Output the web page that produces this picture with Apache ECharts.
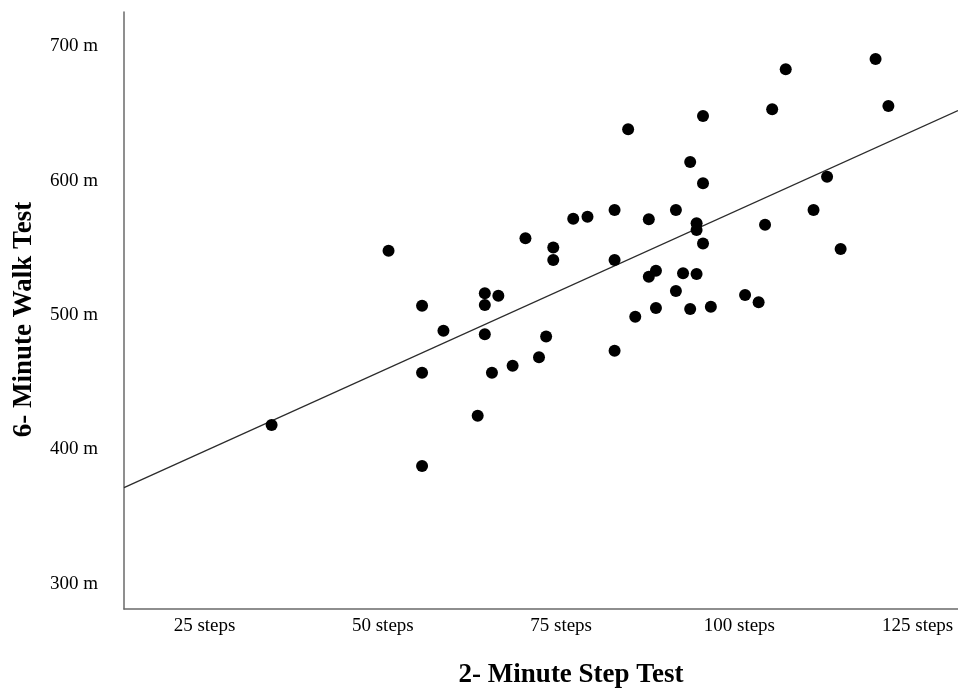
<!DOCTYPE html>
<html>
<head>
    <meta charset="UTF-8">
    <title>2-Minute Step Test vs 6-Minute Walk Test</title>
    <script src="https://cdn.jsdelivr.net/npm/echarts@6.0.0/dist/echarts.min.js"></script>
    <style type="text/css">
        *{padding:0;margin:0}
        body{background:#fff;}
        #chart{width:958px;height:688px;}
    </style>
</head>
<body>
<div id="chart"></div>
<script type="text/javascript">
    // tick labels
    var stepTicks = [25, 50, 75, 100, 125];
    var meterTicks = [300, 400, 500, 600, 700];

    // one entry per participant
    var steps = [34.4, 50.8, 55.5, 55.5, 55.5, 58.5, 63.3, 64.3, 64.3, 64.3,
        65.3, 66.2, 68.2, 70.0, 71.9, 72.9, 73.9, 73.9, 76.7, 78.7,
        82.5, 82.5, 82.5, 84.4, 85.4, 87.3, 87.3, 88.3, 88.3, 91.1,
        91.1, 92.1, 93.1, 93.1, 94.0, 94.0, 94.0, 94.9, 94.9, 94.9,
        96.0, 100.8, 102.7, 103.6, 104.6, 106.5, 110.4, 112.3, 114.2, 119.1,
        120.9];
    var walk = [418.1, 547.9, 506.9, 457.1, 387.6, 488.3, 425.1, 516.2, 507.4, 485.6,
        457.1, 514.4, 462.3, 557.1, 468.5, 484.0, 550.2, 540.9, 571.7, 573.2,
        578.1, 540.9, 473.4, 638.2, 498.7, 571.2, 528.5, 533.0, 505.2, 578.1,
        517.9, 531.0, 613.9, 504.5, 568.2, 563.3, 530.5, 648.1, 598.0, 553.2,
        506.2, 514.9, 509.5, 567.2, 653.1, 682.9, 578.1, 602.9, 549.1, 690.5,
        655.6];

    // fit line, ends at the plot edges
    var fitSteps = [13.7, 130.66];
    var fitWalk = [371.5, 652.1];

    var points = steps.map(function (s, i) { return [s, walk[i]]; });
    var fitLine = fitSteps.map(function (s, i) { return [s, fitWalk[i]]; });

    var serif = 'Liberation Serif';

    var option = {
        animation: false,
        backgroundColor: '#fff',
        grid: {
            left: 124,
            right: 0,
            top: 12,
            bottom: 79,
            containLabel: false,
            outerBoundsMode: 'none'
        },
        xAxis: {
            type: 'value',
            min: 13.7,
            max: 130.66,
            name: '2- Minute Step Test',
            nameLocation: 'middle',
            nameGap: 53,
            nameTextStyle: {
                fontFamily: serif,
                fontWeight: 'bold',
                fontSize: 27,
                color: '#000',
                padding: [0, 0, 0, 60]
            },
            axisLine: {show: true, onZero: false, lineStyle: {color: '#6a6a6a', width: 1.5}},
            axisTick: {show: false},
            splitLine: {show: false},
            axisLabel: {
                customValues: stepTicks,
                margin: 8,
                fontFamily: serif,
                fontSize: 19,
                color: '#000',
                formatter: function (v) { return v + ' steps'; }
            }
        },
        yAxis: {
            type: 'value',
            min: 281.2,
            max: 725.5,
            name: '6- Minute Walk Test',
            nameLocation: 'middle',
            nameRotate: 90,
            nameGap: 86,
            nameTextStyle: {
                fontFamily: serif,
                fontWeight: 'bold',
                fontSize: 27,
                color: '#000',
                padding: [0, 18, 0, 0]
            },
            axisLine: {show: true, onZero: false, lineStyle: {color: '#6a6a6a', width: 1.5}},
            axisTick: {show: false},
            splitLine: {show: false},
            axisLabel: {
                customValues: meterTicks,
                margin: 26,
                fontFamily: serif,
                fontSize: 19,
                color: '#000',
                formatter: function (v) { return v + ' m'; }
            }
        },
        series: [
            {
                name: 'fit',
                type: 'line',
                data: fitLine,
                symbol: 'none',
                silent: true,
                z: 1,
                lineStyle: {color: '#2b2b2b', width: 1.3}
            },
            {
                name: 'participants',
                type: 'scatter',
                data: points,
                symbol: 'circle',
                symbolSize: 12,
                z: 2,
                itemStyle: {color: '#000', opacity: 1}
            }
        ]
    };

    var chart = echarts.init(document.getElementById('chart'));
    chart.setOption(option);
</script>
</body>
</html>
